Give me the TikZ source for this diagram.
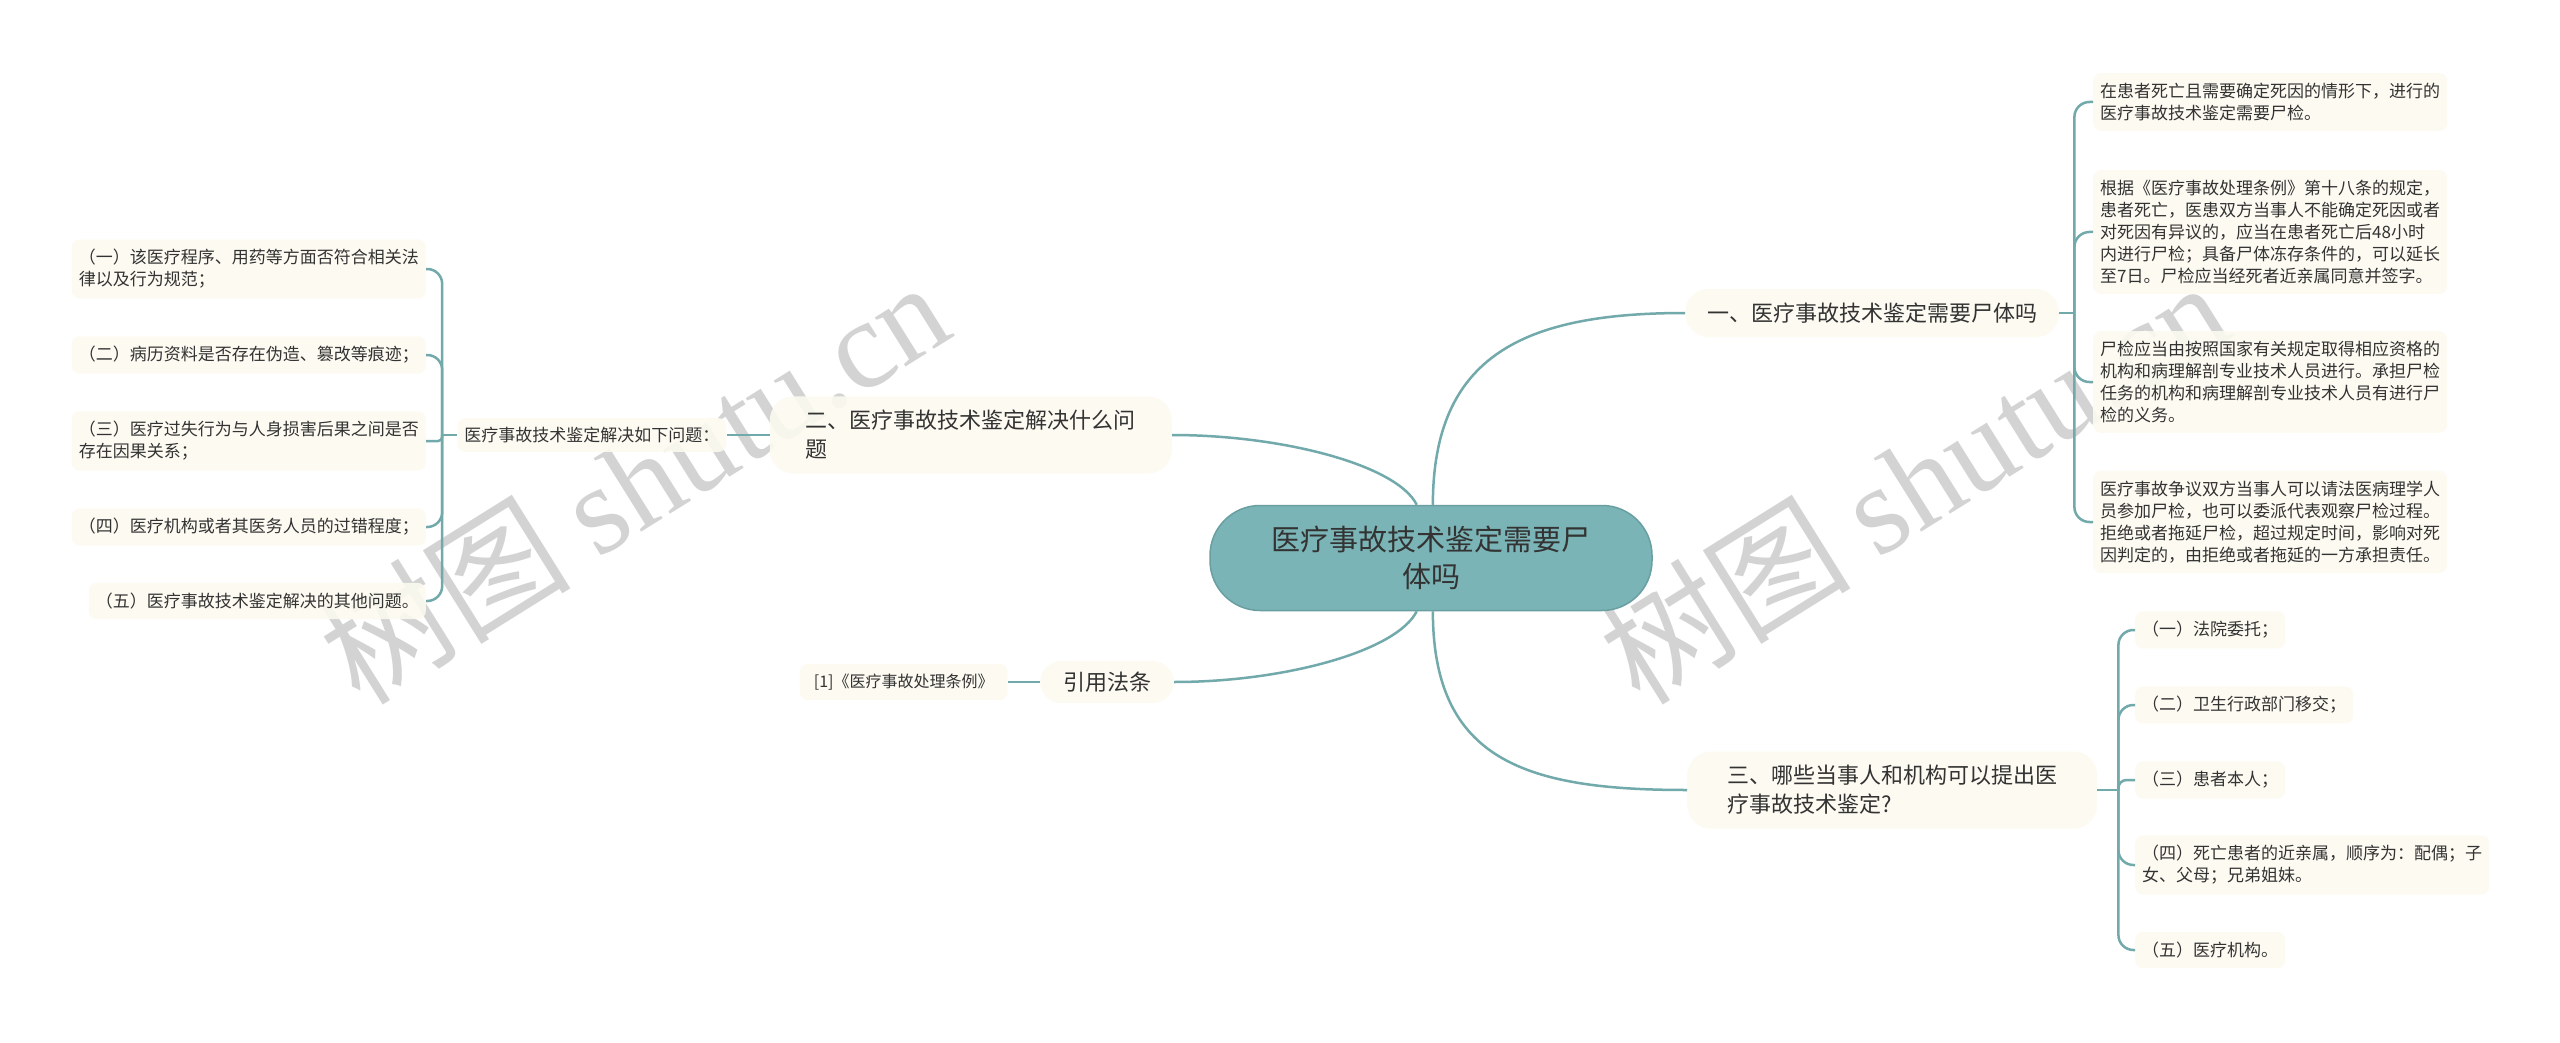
\documentclass[tikz,border=0pt]{standalone}
\usepackage{fontspec}
\setmainfont{Noto Sans CJK SC}
\newfontfamily\wmserif{Liberation Serif}
\usetikzlibrary{positioning}

\definecolor{rootfill}{HTML}{7BB4B6}
\definecolor{rootedge}{HTML}{6A9FA2}
\definecolor{boxfill}{HTML}{FCFAF0}
\definecolor{linkcol}{HTML}{72A9AB}
\definecolor{inkcol}{HTML}{333333}
\definecolor{markcol}{HTML}{D3D3D3}

\begin{document}
\begin{tikzpicture}[x=1pt,y=-1pt,
    link/.style={draw=linkcol,line width=2.5pt},
    rootbox/.style={fill=rootfill,draw=rootedge,line width=1.5pt,rounded corners=50pt,minimum width=442pt,minimum height=105pt,text=inkcol,align=center,font=\rootfont},
    branchbox/.style={fill=boxfill,fill opacity=.9,text opacity=1,text=inkcol,rounded corners=24pt,inner ysep=14pt,font=\branchfont},
    leafbox/.style={fill=boxfill,fill opacity=.9,text opacity=1,text=inkcol,rounded corners=8pt,inner xsep=7pt,inner ysep=10pt,align=left,font=\leaffont},
    markbox/.style={text=markcol,font=\markfontsize,rotate=32,anchor=base west,inner sep=0pt}]
    \providecommand{\rootfont}{\fontsize{29}{37.5}\selectfont}
    \providecommand{\branchfont}{\fontsize{22}{29}\selectfont}
    \providecommand{\leaffont}{\fontsize{17}{22}\selectfont}
    \providecommand{\lawfont}{\fontsize{16}{20}\selectfont}
    \providecommand{\markfontsize}{\fontsize{126}{126}\selectfont}
    \pgfmathsetmacro{\leafwidth}{340}
    \fill[white] (0,0) rectangle (2560,1043);
    \useasboundingbox (0,0) rectangle (2560,1043);
    % watermark
    \node[markbox] (markleft) at (360,708) {树图 {\wmserif shutu.cn}};
    \node[markbox] (markright) at (1640,708) {树图 {\wmserif shutu.cn}};
    % centre and branches
    \node[rootbox] (root) at (1431,558) {医疗事故技术鉴定需要尸\\体吗};
    \node[branchbox,anchor=west,inner xsep=22pt] (b1) at (1685,313) {一、医疗事故技术鉴定需要尸体吗};
    \node[branchbox,anchor=east,inner xsep=36pt,text width=330pt,align=left] (b2) at (1172,435) {二、医疗事故技术鉴定解决什么问\\题};
    \node[branchbox,anchor=west,inner xsep=40pt,text width=330pt,align=left] (b3) at (1687,790) {三、哪些当事人和机构可以提出医\\疗事故技术鉴定?};
    \node[branchbox,inner xsep=23pt,inner ysep=11pt,rounded corners=22pt] (cite) at (1107,682) {引用法条};
    \node[leafbox,font=\lawfont,inner xsep=14pt,inner ysep=10pt,left=32pt of cite] (law) {[1]《医疗事故处理条例》};
    \node[leafbox,inner xsep=7pt,inner ysep=9pt,left=43pt of b2] (b2q) {医疗事故技术鉴定解决如下问题：};
    % leaves of branch one
    \node[leafbox,anchor=west,text width=\leafwidth pt] (c1) at (2093,102) {在患者死亡且需要确定死因的情形下，进行的\\医疗事故技术鉴定需要尸检。};
    \node[leafbox,anchor=west,text width=\leafwidth pt] (c2) at (2093,232) {根据《医疗事故处理条例》第十八条的规定，\\患者死亡，医患双方当事人不能确定死因或者\\对死因有异议的，应当在患者死亡后48小时\\内进行尸检；具备尸体冻存条件的，可以延长\\至7日。尸检应当经死者近亲属同意并签字。};
    \node[leafbox,anchor=west,text width=\leafwidth pt] (c3) at (2093,382) {尸检应当由按照国家有关规定取得相应资格的\\机构和病理解剖专业技术人员进行。承担尸检\\任务的机构和病理解剖专业技术人员有进行尸\\检的义务。};
    \node[leafbox,anchor=west,text width=\leafwidth pt] (c4) at (2093,522) {医疗事故争议双方当事人可以请法医病理学人\\员参加尸检，也可以委派代表观察尸检过程。\\拒绝或者拖延尸检，超过规定时间，影响对死\\因判定的，由拒绝或者拖延的一方承担责任。};
    % leaves of branch three
    \node[leafbox,anchor=west] (d1) at (2135,630) {（一）法院委托；};
    \node[leafbox,anchor=west] (d2) at (2135,705) {（二）卫生行政部门移交；};
    \node[leafbox,anchor=west] (d3) at (2135,780) {（三）患者本人；};
    \node[leafbox,anchor=west,text width=\leafwidth pt] (d4) at (2135,865) {（四）死亡患者的近亲属，顺序为：配偶；子\\女、父母；兄弟姐妹。};
    \node[leafbox,anchor=west] (d5) at (2135,950) {（五）医疗机构。};
    % leaves of branch two
    \node[leafbox,anchor=east,text width=\leafwidth pt] (e1) at (426,269) {（一）该医疗程序、用药等方面否符合相关法\\律以及行为规范；};
    \node[leafbox,anchor=east] (e2) at (426,355) {（二）病历资料是否存在伪造、篡改等痕迹；};
    \node[leafbox,anchor=east,text width=\leafwidth pt] (e3) at (426,441) {（三）医疗过失行为与人身损害后果之间是否\\存在因果关系；};
    \node[leafbox,anchor=east] (e4) at (426,527) {（四）医疗机构或者其医务人员的过错程度；};
    \node[leafbox,anchor=east] (e5) at (426,601) {（五）医疗事故技术鉴定解决的其他问题。};
    % junctions
    \coordinate[right=15pt of b1] (J1);
    \coordinate[right=21pt of b3] (J3);
    \coordinate[left=15pt of b2q] (J2);
    % main curves
    \draw[link] (root.88) .. controls +(0,-150) and +(-160,0) .. (b1.west);
    \draw[link] (root.-88) .. controls +(0,150) and +(-160,0) .. (b3.west);
    \draw[link] (root.105) .. controls +(-20,-40) and +(110,0) .. (b2.east);
    \draw[link] (root.-105) .. controls +(-20,40) and +(110,0) .. (cite.east);
    \draw[link] (cite) -- (law);
    \draw[link] (b2) -- (b2q);
    \draw[link] (b1) -- (J1);
    \draw[link] (b3) -- (J3);
    \draw[link] (b2q) -- (J2);
    % brackets
    \draw[link,rounded corners=15pt] (J1) |- (c1.west);
    \draw[link,rounded corners=15pt] (J1) |- (c2.west);
    \draw[link,rounded corners=15pt] (J1) |- (c3.west);
    \draw[link,rounded corners=15pt] (J1) |- (c4.west);
    \draw[link,rounded corners=15pt] (J3) |- (d1.west);
    \draw[link,rounded corners=15pt] (J3) |- (d2.west);
    \draw[link,rounded corners=8pt] (J3) |- (d3.west);
    \draw[link,rounded corners=15pt] (J3) |- (d4.west);
    \draw[link,rounded corners=15pt] (J3) |- (d5.west);
    \draw[link,rounded corners=15pt] (J2) |- (e1.east);
    \draw[link,rounded corners=15pt] (J2) |- (e2.east);
    \draw[link,rounded corners=4pt] (J2) |- (e3.east);
    \draw[link,rounded corners=15pt] (J2) |- (e4.east);
    \draw[link,rounded corners=15pt] (J2) |- (e5.east);
\end{tikzpicture}
\end{document}
